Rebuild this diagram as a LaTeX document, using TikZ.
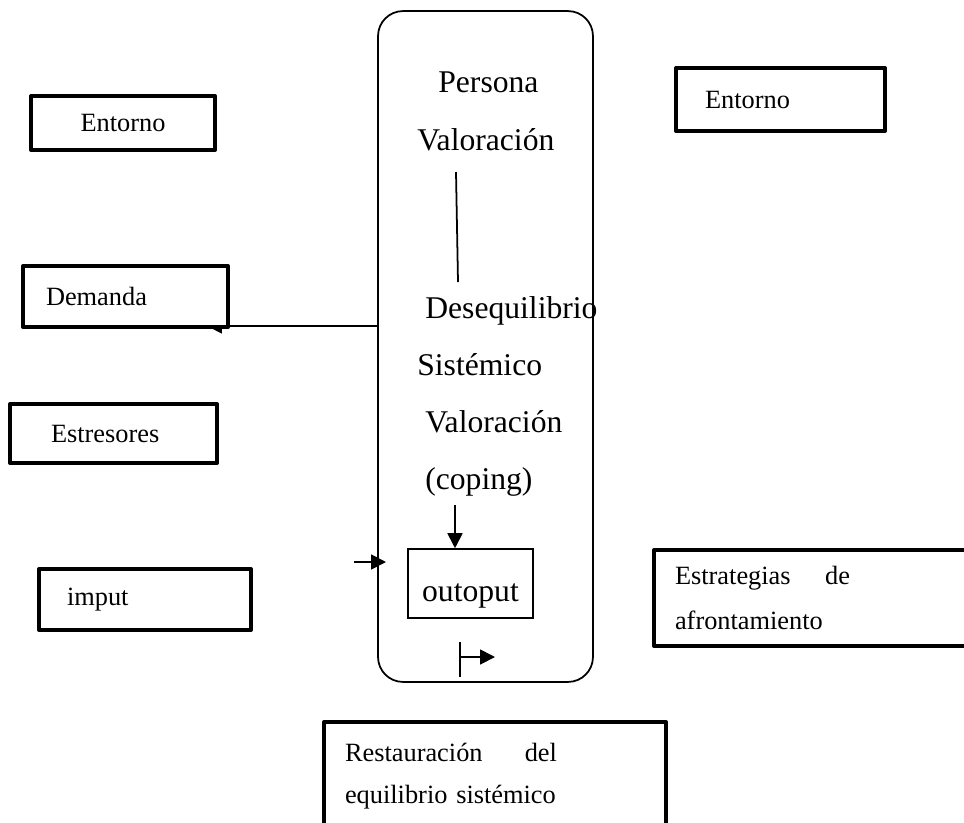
\documentclass[tikz,border=0pt]{standalone}
\usepackage{fontspec}
\setmainfont{Liberation Serif}
\usetikzlibrary{calc, positioning, arrows.meta}

\begin{document}
\begin{tikzpicture}[x=0.02cm, y=-0.02cm,
    thick-box/.style={draw, line width=2.3pt, line join=round, fill=white, align=left,
      font=\fontsize{15}{25}\selectfont},
    inner-text/.style={anchor=base west, inner sep=0pt, font=\fontsize{18}{22}\selectfont},
    arr/.style={-{Triangle[length=0.3cm, width=0.3cm]}, line width=1pt}]

  \useasboundingbox (0,0) rectangle (964,822);

  % persona
  \node[draw, line width=1pt, rounded corners=0.5cm, minimum width=4.3cm, minimum height=13.42cm] (sistema) at (485.5,346.5) {};

  \node[inner-text] (persona)        at (438,92)  {Persona};
  \node[inner-text] (valoracion-top) at (417,150) {Valoración};
  \node[inner-text] (desequilibrio)  at (425,318) {Desequilibrio};
  \node[inner-text] (sistemico)      at (417,375) {Sistémico};
  \node[inner-text] (valoracion-low) at (425,432) {Valoración};
  \node[inner-text] (coping)         at (425,489) {(coping)};

  \node[draw, line width=0.9pt, minimum width=2.5cm, minimum height=1.38cm, text height=21pt, text depth=0pt,
    font=\fontsize{18}{22}\selectfont] (outoput) at (470.5,583.5) {outoput};

  \coordinate (val-line-top) at (456,172);
  \coordinate (val-line-bot) at (458,282);
  \draw[line width=1pt] (val-line-top) to (val-line-bot);

  \coordinate (coping-arrow) at (455,505);
  \draw[arr] (coping-arrow) to (coping-arrow |- outoput.north);

  \coordinate (imput-arrow) at (354,562);
  \coordinate (imput-tip)   at (386,562);
  \draw[arr] (imput-arrow) to (imput-tip);

  \coordinate (salida) at (460,657);
  \draw[line width=1pt] (salida) ++(0,-15) to ++(0,35);
  \draw[arr] (salida) to ++(35,0);

  % demanda goes out under its box
  \coordinate (demanda-tip) at (207,326);
  \draw[arr] (sistema.west |- demanda-tip) to (demanda-tip);

  % entorno boxes
  \node[thick-box, align=center, minimum width=3.68cm, minimum height=1.08cm] (entorno-left) at (123,123) {Entorno};
  \node[thick-box, text width=3.02cm, inner xsep=0.58cm, minimum height=1.26cm] (entorno-right) at (780.5,99.5) {Entorno};
  \node[thick-box, text width=3.18cm, inner xsep=0.46cm, minimum height=1.22cm] (demanda) at (125.5,296.5) {Demanda};
  \node[thick-box, text width=2.5cm, inner xsep=0.82cm, minimum height=1.18cm] (estresores) at (113.5,433.5) {Estresores};
  \node[thick-box, text width=3.12cm, inner xsep=0.56cm, minimum height=1.22cm] (imput) at (145,599.5) {imput};

  \node[thick-box, text width=5.48cm, inner xsep=0.42cm, minimum height=1.92cm,
    font=\fontsize{15}{25.5}\selectfont] (estrategias) at (812,598)
    {\makebox[3.5cm]{Estrategias\hfill de}\\afrontamiento};

  \node[thick-box, text width=6.0cm, inner xsep=0.42cm, minimum height=2.16cm,
    font=\fontsize{15}{24}\selectfont] (restauracion) at (495,776)
    {\makebox[4.24cm]{Restauración\hfill del}\\equilibrio sistémico};

\end{tikzpicture}
\end{document}
